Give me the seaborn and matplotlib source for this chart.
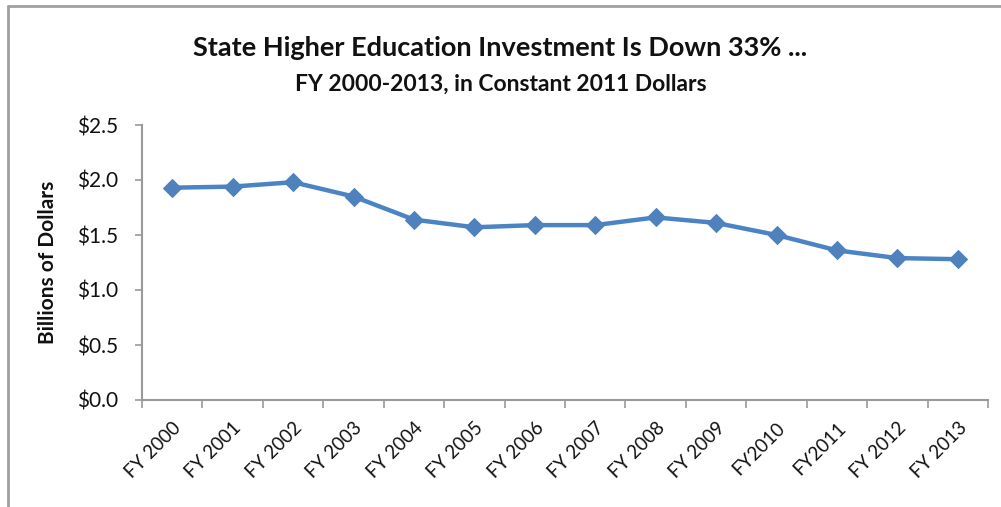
import matplotlib
matplotlib.use("Agg")
import matplotlib.pyplot as plt
from matplotlib.lines import Line2D
from matplotlib.ticker import FixedLocator
import seaborn as sns
import pandas as pd

years = ["FY 2000", "FY 2001", "FY 2002", "FY 2003", "FY 2004", "FY 2005", "FY 2006",
         "FY 2007", "FY 2008", "FY 2009", "FY2010", "FY2011", "FY 2012", "FY 2013"]
investment = [1.93, 1.94, 1.98, 1.85, 1.64, 1.57, 1.59, 1.59, 1.66, 1.61, 1.50, 1.36, 1.29, 1.28]
y_ticks = [0.0, 0.5, 1.0, 1.5, 2.0, 2.5]

df = pd.DataFrame({"year": years, "value": investment})

sns.set_theme(style="white")
plt.rcParams["font.family"] = ["Lato", "DejaVu Sans"]

fig = plt.figure(figsize=(10.01, 5.07), dpi=100)
ax = fig.add_axes([142 / 1001, 1 - 400 / 507, (988 - 142) / 1001, (400 - 125) / 507])

line_color = "#4A84C4"
sns.lineplot(data=df, x="year", y="value", ax=ax, color=line_color, linewidth=3.2,
             marker="D", markersize=9.5, markerfacecolor="#4F81BD",
             markeredgecolor="#4F81BD", sort=False)

ax.set_xlim(-0.5, len(years) - 0.5)
ax.set_ylim(0, 2.5)
ax.set_yticks(y_ticks)
ax.set_yticklabels([f"${v:.1f}" for v in y_ticks], fontsize=15, color="#111111")

# category labels centered, tick marks on the boundaries between categories
ax.set_xticks(range(len(years)))
ax.set_xticklabels(years, rotation=45, ha="right", rotation_mode="anchor",
                   fontsize=13.5, color="#111111")
ax.tick_params(axis="x", which="major", length=0, pad=14)
ax.xaxis.set_minor_locator(FixedLocator([i - 0.5 for i in range(len(years) + 1)]))
ax.tick_params(axis="x", which="minor", length=6, width=1.2, color="#999999", direction="out", bottom=True)
ax.tick_params(axis="y", length=5, width=1.2, color="#999999", direction="out", left=True, pad=12)

ax.set_xlabel("")
ax.set_ylabel("Billions of Dollars", fontsize=15, fontweight="bold", color="#111111")
ax.yaxis.set_label_coords(-84 / 846, 0.5)

for side in ["top", "right"]:
    ax.spines[side].set_visible(False)
for side in ["left", "bottom"]:
    ax.spines[side].set_color("#999999")
    ax.spines[side].set_linewidth(1.5)

fig.text(0.5, 1 - 48 / 507, "State Higher Education Investment Is Down 33% ...",
         ha="center", va="center", fontsize=19.5, fontweight="bold", color="#111111")
fig.text(0.5, 1 - 84 / 507, "FY 2000-2013, in Constant 2011 Dollars",
         ha="center", va="center", fontsize=16.5, fontweight="bold", color="#111111")

# frame lines along the left and top edges
fig.add_artist(Line2D([8 / 1001, 8 / 1001], [0, 1 - 6 / 507], transform=fig.transFigure,
                      color="#a0a0a0", linewidth=2))
fig.add_artist(Line2D([8 / 1001, 1], [1 - 6 / 507, 1 - 6 / 507], transform=fig.transFigure,
                      color="#a0a0a0", linewidth=2))

fig.savefig("out.png", dpi=100)
